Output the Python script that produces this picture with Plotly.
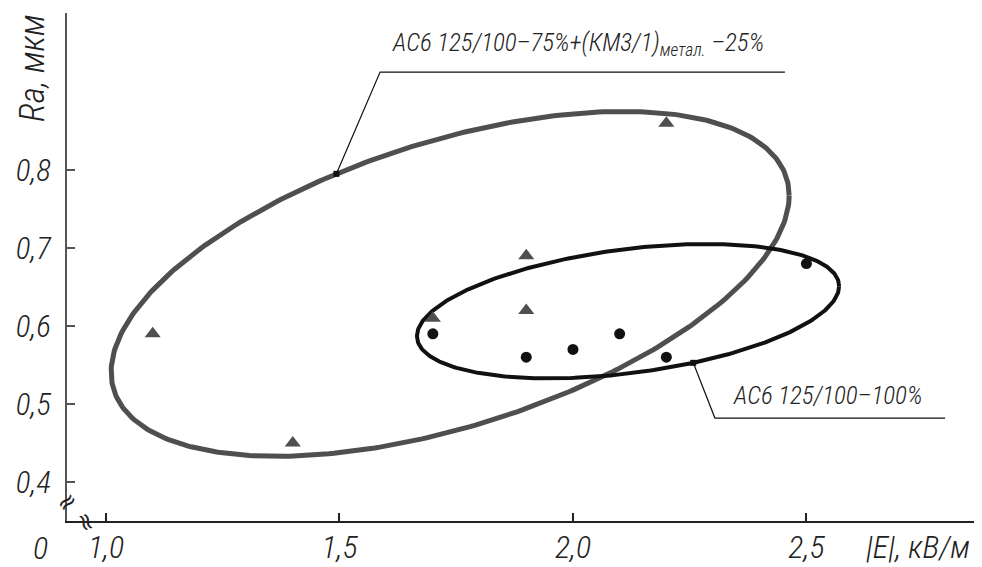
import numpy as np
import plotly.graph_objects as go

# ---- data ----
tri_x = [1.1, 1.4, 1.7, 1.9, 1.9, 2.2]          # AC6 125/100-75% + (KM3/1) -25%
tri_y = [0.59, 0.45, 0.61, 0.69, 0.62, 0.86]
dot_x = [1.7, 1.9, 2.0, 2.1, 2.2, 2.5]          # AC6 125/100-100%
dot_y = [0.59, 0.56, 0.57, 0.59, 0.56, 0.68]

x_ticks = [1.0, 1.5, 2.0, 2.5]
x_labels = ["1,0", "1,5", "2,0", "2,5"]
y_ticks = [0.4, 0.5, 0.6, 0.7, 0.8]
y_labels = ["0,4", "0,5", "0,6", "0,7", "0,8"]

# ellipses: centre, offset to the right-most point, vertical half-chord
gray_ell = dict(cx=1.737, cy=0.654, ux=0.726, uy=0.113, h=0.190)
black_ell = dict(cx=2.118, cy=0.619, ux=0.452, uy=0.032, h=0.080)

label_gray = "АС6 125/100–75%+(КМ3/1)<sub>метал.</sub> –25%"
label_black = "АС6 125/100–100%"

FONT = "Liberation Sans Narrow, Roboto Condensed, DejaVu Sans Condensed, Roboto, sans-serif"
GRAY = "#4f4f4f"
TXT = "#222222"


def ellipse(p, t):
    t = np.asarray(t, dtype=float)
    return p["cx"] + p["ux"] * np.cos(t), p["cy"] + p["uy"] * np.cos(t) + p["h"] * np.sin(t)


def tfont(size):
    return dict(family=FONT, size=size, color=TXT, style="italic", weight=300)


tt = np.linspace(0, 2 * np.pi, 400)
gx, gy = ellipse(gray_ell, tt)
bx, by = ellipse(black_ell, tt)

fig = go.Figure()
fig.add_trace(go.Scatter(x=gx, y=gy, mode="lines", line=dict(color=GRAY, width=5),
                         hoverinfo="skip", showlegend=False))
fig.add_trace(go.Scatter(x=bx, y=by, mode="lines", line=dict(color="#111111", width=4),
                         hoverinfo="skip", showlegend=False))
fig.add_trace(go.Scatter(x=tri_x, y=tri_y, mode="markers",
                         marker=dict(symbol="triangle-up", size=14, color=GRAY),
                         showlegend=False))
fig.add_trace(go.Scatter(x=dot_x, y=dot_y, mode="markers",
                         marker=dict(symbol="circle", size=11, color="#111111"),
                         showlegend=False))

# leader lines
ga_x, ga_y = ellipse(gray_ell, np.deg2rad(109.6))
ba_x, ba_y = ellipse(black_ell, np.deg2rad(-72))
fig.add_trace(go.Scatter(x=[float(ga_x), 1.587, 2.454], y=[float(ga_y), 0.9256, 0.9256],
                         mode="lines", line=dict(color="#111111", width=1.2),
                         hoverinfo="skip", showlegend=False))
fig.add_trace(go.Scatter(x=[float(ba_x), 2.304, 2.797], y=[float(ba_y), 0.482, 0.482],
                         mode="lines", line=dict(color="#111111", width=1.2),
                         hoverinfo="skip", showlegend=False))
fig.add_trace(go.Scatter(x=[float(ga_x), float(ba_x)], y=[float(ga_y), float(ba_y)],
                         mode="markers", marker=dict(symbol="square", size=6, color="#111111"),
                         hoverinfo="skip", showlegend=False))

C = dict(xanchor="center", yanchor="middle", showarrow=False)
ann = [
    dict(x=2.0107, y=0.962, xref="x", yref="y", text=label_gray, font=tfont(25), **C),
    dict(x=2.546, y=0.5115, xref="x", yref="y", text=label_black, font=tfont(25), **C),
    dict(x=-0.037, y=0.892, xref="paper", yref="paper", text="Ra, мкм", textangle=-90,
         font=tfont(35), **C),
    dict(x=0.930, y=-0.052, xref="paper", yref="paper", text="|E|, кВ/м",
         font=tfont(32), **C),
    dict(x=-0.029, y=-0.053, xref="paper", yref="paper", text="0", font=tfont(32), **C),
    dict(x=0.0, y=0.037, xref="paper", yref="paper", text="≈", textangle=-40,
         font=dict(family="DejaVu Sans", size=24, color=TXT), **C),
    dict(x=0.021, y=-0.002, xref="paper", yref="paper", text="≈", textangle=70,
         font=dict(family="DejaVu Sans", size=24, color=TXT), **C),
]

# the page body adds an 8 px offset; the figure is sized so the plot area
# lands at x 67..982 and y 13..521 of the 982x567 window
fig.update_layout(
    template="none",
    width=974, height=559,
    margin=dict(l=59, r=0, t=5, b=46, pad=0),
    paper_bgcolor="white", plot_bgcolor="white",
    showlegend=False,
    annotations=ann,
    xaxis=dict(range=[0.9165, 2.876], tickvals=x_ticks, ticktext=x_labels, automargin=False,
               showgrid=False, zeroline=False, showline=True, linecolor="#222222", linewidth=2,
               ticks="inside", ticklen=8, tickwidth=1.5, tickcolor="#222222",
               ticklabelstandoff=-3, tickfont=tfont(32)),
    yaxis=dict(range=[0.35, 1.0013], tickvals=y_ticks, ticktext=y_labels, automargin=False,
               showgrid=False, zeroline=False, showline=True, linecolor="#555555", linewidth=2,
               ticks="inside", ticklen=8, tickwidth=1.5, tickcolor="#555555",
               ticklabelstandoff=8, tickfont=tfont(31)),
)

fig.write_html("out.html")
